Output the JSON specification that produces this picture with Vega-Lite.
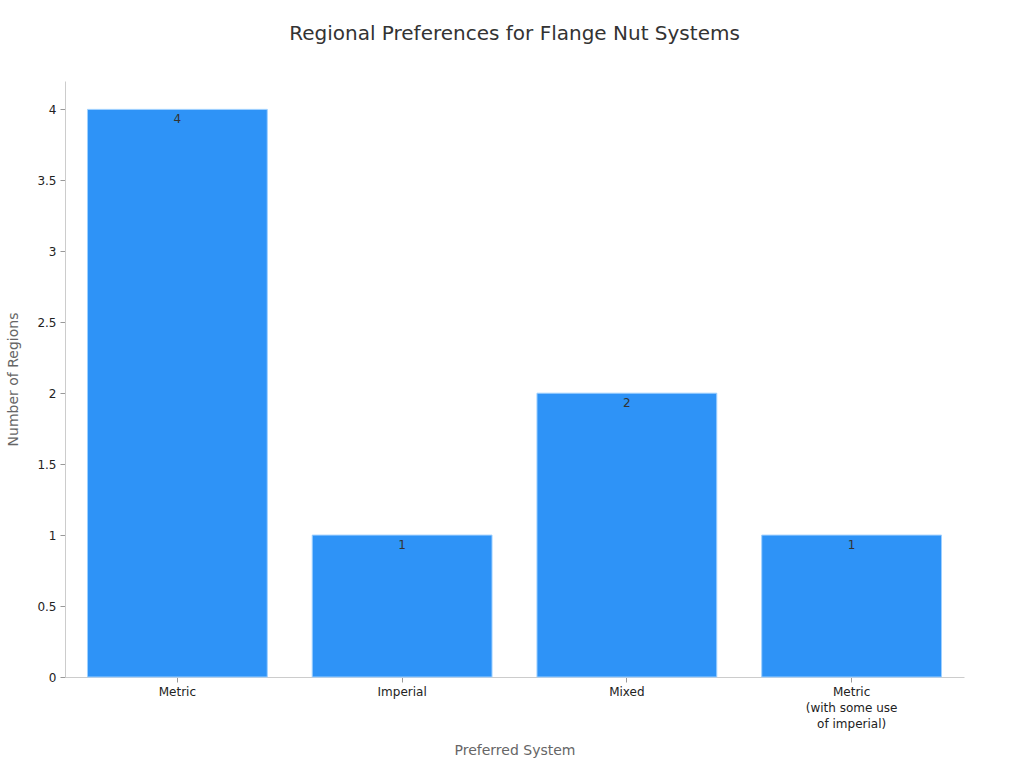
{
  "$schema": "https://vega.github.io/schema/vega-lite/v6.json",
  "width": 899,
  "height": 596,
  "autosize": {"type": "none"},
  "padding": {"left": 65, "top": 81, "right": 60, "bottom": 91},
  "background": "white",
  "config": {
    "font": "DejaVu Sans",
    "view": {"stroke": null},
    "axis": {"grid": false, "domainColor": "#cccccc", "tickColor": "#999999", "labelColor": "#222222", "labelFontSize": 12, "titleColor": "#666666", "titleFontSize": 14, "titleFontWeight": "normal"}
  },
  "title": {"text": "Regional Preferences for Flange Nut Systems", "fontSize": 20, "fontWeight": "normal", "color": "#333333", "offset": 37, "anchor": "middle"},
  "data": {
    "values": [
      {"system": "Metric", "regions": 4},
      {"system": "Imperial", "regions": 1},
      {"system": "Mixed", "regions": 2},
      {"system": "Metric (with some use of imperial)", "regions": 1}
    ]
  },
  "encoding": {
    "x": {
      "field": "system",
      "type": "nominal",
      "sort": null,
      "title": "Preferred System",
      "scale": {"paddingInner": 0.2, "paddingOuter": 0.1},
      "axis": {
        "labelAngle": 0,
        "labelPadding": 4,
        "titlePadding": 14,
        "labelLineHeight": 16,
        "labelExpr": "datum.label == 'Metric (with some use of imperial)' ? ['Metric', '(with some use', 'of imperial)'] : datum.label"
      }
    },
    "y": {
      "field": "regions",
      "type": "quantitative",
      "title": "Number of Regions",
      "scale": {"domain": [0, 4.2], "nice": false},
      "axis": {"values": [0, 0.5, 1, 1.5, 2, 2.5, 3, 3.5, 4], "format": "~g", "titlePadding": 16, "labelPadding": 4}
    }
  },
  "layer": [
    {"mark": {"type": "bar", "color": "#2e93f7", "stroke": "#9fd0ff", "strokeWidth": 1}},
    {"mark": {"type": "text", "baseline": "middle", "dy": 10, "fontSize": 12, "color": "#333333"}, "encoding": {"text": {"field": "regions", "type": "quantitative"}}}
  ]
}
